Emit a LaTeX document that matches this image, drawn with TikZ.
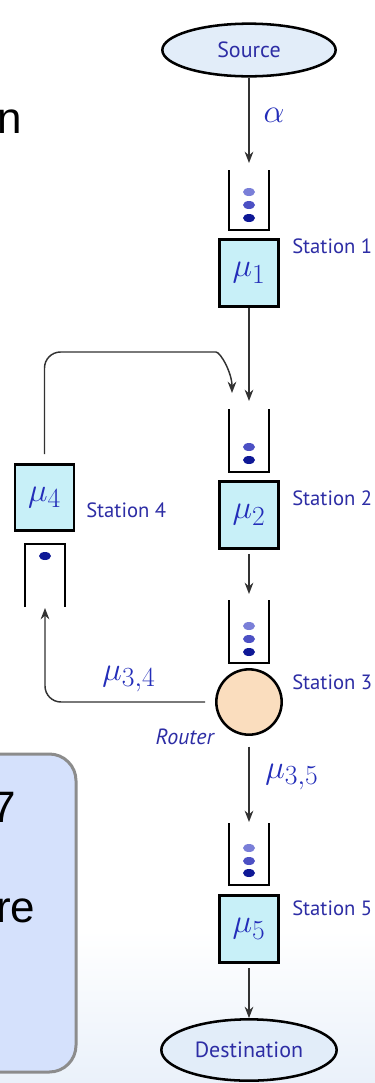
\documentclass[tikz,border=0pt]{standalone}
\usepackage{fontspec}
\newfontfamily\labfont{PT Sans}
\newfontfamily\slidefont{Liberation Sans}
\usetikzlibrary{shapes.geometric,arrows.meta}
\definecolor{labblue}{RGB}{45,45,165}
\definecolor{mathblue}{RGB}{35,45,185}
\definecolor{boxfill}{RGB}{200,240,248}
\definecolor{ellfill}{RGB}{226,237,249}
\definecolor{routerfill}{RGB}{250,221,190}
\definecolor{dotA}{RGB}{122,127,216}
\definecolor{dotB}{RGB}{76,80,196}
\definecolor{dotC}{RGB}{14,24,150}
\definecolor{connc}{RGB}{50,50,50}
\definecolor{panelfill}{RGB}{213,225,252}
\definecolor{panelline}{RGB}{140,140,140}
\definecolor{bgblue}{RGB}{234,241,250}
\begin{document}
\begin{tikzpicture}[x=0.75pt,y=-0.75pt,
  conn/.style={draw=connc, line width=1.1pt, -{Stealth[length=8.5pt,width=6.5pt]}},
  srvbox/.style={draw=black, line width=2.2pt, fill=boxfill, minimum width=44.25pt, minimum height=50pt, inner sep=0pt, font=\fontsize{24.88}{28}\selectfont, text=mathblue},
  endell/.style={ellipse, draw=black, line width=1.9pt, fill=ellfill, inner sep=0pt, font=\labfont\fontsize{16.5}{19}\selectfont, text=labblue},
  queue/.style={draw=black, line width=1.9pt},
  stlabel/.style={anchor=west, inner sep=0pt, font=\labfont\fontsize{15.5}{18}\selectfont, text=labblue},
  ratelabel/.style={inner sep=0pt, font=\fontsize{24.88}{28}\selectfont, text=mathblue},
  slidetext/.style={inner sep=0pt, font=\slidefont\fontsize{33}{40}\selectfont, text=black}
]
\useasboundingbox (0,0) rectangle (375,1083);
\fill[white] (0,0) rectangle (375,1083);
\shade[top color=white, bottom color=bgblue] (0,930) rectangle (375,1083);

% left slide fragments
\node[slidetext, anchor=base west] (tn) at (-3,133) {n};
\draw[panelline, line width=2.25pt, fill=panelfill, rounded corners=20pt] (-40,754) rectangle (76,1072);
\node[slidetext, anchor=base west] (t7) at (-9,822) {7};
\node[slidetext, anchor=base west] (tre) at (-4,922) {re};

% nodes
\node[endell, minimum width=130pt, minimum height=39.5pt] (src) at (249,50) {Source};
\node[srvbox] (b1) at (249,273) {$\mu_1$};
\node[srvbox] (b2) at (249,515) {$\mu_2$};
\node[srvbox] (b4) at (44.5,497.5) {$\mu_4$};
\node[srvbox] (b5) at (249,929) {$\mu_5$};
\node[circle, draw=black, line width=1.9pt, fill=routerfill, minimum size=49pt, inner sep=0pt] (rt) at (249,702) {};
\node[endell, minimum width=131.5pt, minimum height=46pt] (dst) at (249,1050) {Destination};

% queues
\draw[queue] (229,170) -- (229,230) -- (269,230) -- (269,170);
\fill[dotA] (249,192) ellipse [x radius=4.5pt, y radius=3pt];
\fill[dotB] (249,205) ellipse [x radius=4.5pt, y radius=3pt];
\fill[dotC] (249,218) ellipse [x radius=4.5pt, y radius=3pt];

\draw[queue] (229,409) -- (229,472) -- (269,472) -- (269,409);
\fill[dotB] (249,447) ellipse [x radius=4.5pt, y radius=3pt];
\fill[dotC] (249,460) ellipse [x radius=4.5pt, y radius=3pt];

\draw[queue] (229,600) -- (229,663) -- (269,663) -- (269,600);
\fill[dotA] (249,626) ellipse [x radius=4.5pt, y radius=3pt];
\fill[dotB] (249,639) ellipse [x radius=4.5pt, y radius=3pt];
\fill[dotC] (249,652) ellipse [x radius=4.5pt, y radius=3pt];

\draw[queue] (25,607) -- (25,544) -- (65,544) -- (65,607);
\fill[dotC] (45,556) ellipse [x radius=4.5pt, y radius=3pt];

\draw[queue] (229,823) -- (229,885) -- (269,885) -- (269,823);
\fill[dotA] (249,848) ellipse [x radius=4.5pt, y radius=3pt];
\fill[dotB] (249,861) ellipse [x radius=4.5pt, y radius=3pt];
\fill[dotC] (249,873) ellipse [x radius=4.5pt, y radius=3pt];

% queue entry points
\coordinate (q1) at (249,163);
\coordinate (q2) at (249,401);
\coordinate (q2b) at (232,393);
\coordinate (loopc) at (200,352);
\coordinate (q3) at (249,594);
\coordinate (q4) at (45,608);
\coordinate (q5) at (249,822);

% connectors
\draw[conn] (src.south) -- (q1);
\draw[conn] (b1.south) -- (q2);
\draw[conn, shorten <=6.5pt, rounded corners=12pt] (b4.north) |- (loopc) to[out=0,in=90] (q2b);
\draw[conn, shorten <=3pt] (b2.south) -- (q3);
\draw[conn, shorten <=7.5pt, rounded corners=12pt] (rt.west) -| (q4);
\draw[conn, shorten <=8pt] (rt.south) -- (q5);
\draw[conn, shorten <=3.5pt] (b5.south) -- (dst.north);

% labels
\node[ratelabel] (la) at (274,115) {$\alpha$};
\node[ratelabel] (l34) at (129,679) {$\mu_{3,4}$};
\node[ratelabel] (l35) at (292,777) {$\mu_{3,5}$};
\node[stlabel] (s1) at (292,246) {Station 1};
\node[stlabel] (s2) at (292,498) {Station 2};
\node[stlabel] (s3) at (292,682) {Station 3};
\node[stlabel] (s4) at (86,510) {Station 4};
\node[stlabel] (s5) at (292,908) {Station 5};
\node[stlabel, anchor=east, font=\labfont\itshape\fontsize{16.5}{19}\selectfont] (rl) at (214,737) {Router};
\end{tikzpicture}
\end{document}
